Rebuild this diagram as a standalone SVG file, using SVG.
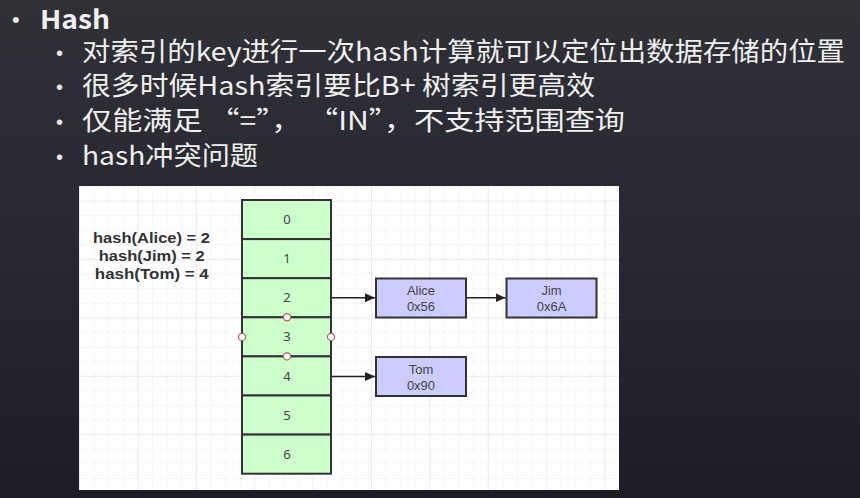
<svg xmlns="http://www.w3.org/2000/svg" width="860" height="498" viewBox="0 0 860 498">
  <defs>
    <linearGradient id="bg" x1="0" y1="0" x2="0" y2="1">
      <stop offset="0" stop-color="#303137"/>
      <stop offset="0.5" stop-color="#272830"/>
      <stop offset="1" stop-color="#1c1d25"/>
    </linearGradient>
    <pattern id="grid" x="79" y="186" width="14.6" height="14.6" patternUnits="userSpaceOnUse">
      <path d="M0 0H14.6M0 0V14.6" fill="none" stroke="#ededed" stroke-width="1"/>
    </pattern>
    <pattern id="gridMajor" x="79" y="200.6" width="58.4" height="58.4" patternUnits="userSpaceOnUse">
      <path d="M0 0H58.4M0 0V58.4" fill="none" stroke="#e2e2e2" stroke-width="1"/>
    </pattern>
    <marker id="arrow" viewBox="0 0 10 10" refX="10" refY="5" markerWidth="10" markerHeight="10" markerUnits="userSpaceOnUse" orient="auto">
      <path d="M0 0.5L10 5L0 9.5Z" fill="#222"/>
    </marker>
    <style>
      .title { font-family: "Noto Sans CJK SC", "Noto Sans", sans-serif; fill: #f0f0f0; }
      .bullet { font-family: "Liberation Sans", sans-serif; fill: #e8e8e8; }
      .slot rect { fill: #ccffcc; stroke: #333; stroke-width: 2; }
      .entry rect { fill: #ccccff; stroke: #333; stroke-width: 2; }
      .num { font-family: "Noto Sans", "Liberation Sans", sans-serif; font-size: 13px; fill: #444; text-anchor: middle; }
      .lbl { font-family: "Liberation Sans", sans-serif; font-size: 13px; fill: #444; text-anchor: middle; }
      .hashtxt { font-family: "Liberation Sans", sans-serif; font-size: 15px; font-weight: bold; fill: #333; text-anchor: middle; }
      .conn { stroke: #222; stroke-width: 1.6; fill: none; }
      .handle { fill: #fff; stroke: #b85a50; stroke-width: 1.2; }
    </style>
  </defs>

  <rect x="0" y="0" width="860" height="498" fill="url(#bg)"/>

  <g id="bullets">
    <text class="bullet" x="12" y="27" font-size="22">•</text>
    <text class="title" x="40" y="29" font-size="26" font-weight="bold" textLength="70" lengthAdjust="spacingAndGlyphs">Hash</text>
    <text class="bullet" x="56" y="60" font-size="20">•</text>
    <text class="title" x="82" y="61" font-size="26" textLength="763" lengthAdjust="spacingAndGlyphs">对索引的key进行一次hash计算就可以定位出数据存储的位置</text>
    <text class="bullet" x="56" y="94" font-size="20">•</text>
    <text class="title" x="82" y="95" font-size="26" textLength="513" lengthAdjust="spacingAndGlyphs">很多时候Hash索引要比B+ 树索引更高效</text>
    <text class="bullet" x="56" y="129" font-size="20">•</text>
    <text class="title" x="82" y="130" font-size="26" textLength="543" lengthAdjust="spacingAndGlyphs">仅能满足 “=”， “IN”，不支持范围查询</text>
    <text class="bullet" x="56" y="164" font-size="20">•</text>
    <text class="title" x="82" y="165" font-size="26" textLength="176" lengthAdjust="spacingAndGlyphs">hash冲突问题</text>
  </g>

  <g id="panel">
    <rect x="79" y="186" width="540" height="304" fill="#ffffff"/>
    <rect x="79" y="186" width="540" height="304" fill="url(#grid)"/>
    <rect x="79" y="186" width="540" height="304" fill="url(#gridMajor)"/>
  </g>

  <g id="hash-formulas">
    <text class="hashtxt" x="151.5" y="243" textLength="117" lengthAdjust="spacingAndGlyphs">hash(Alice) = 2</text>
    <text class="hashtxt" x="151.7" y="261" textLength="106" lengthAdjust="spacingAndGlyphs">hash(Jim) = 2</text>
    <text class="hashtxt" x="151.8" y="279" textLength="114" lengthAdjust="spacingAndGlyphs">hash(Tom) = 4</text>
  </g>

  <g id="table">
    <g id="slot0" class="slot"><rect x="242" y="200" width="89" height="39.1"/><text class="num" x="287" y="224.1">0</text></g>
    <g id="slot1" class="slot"><rect x="242" y="239.1" width="89" height="39.1"/><text class="num" x="287" y="263.2">1</text></g>
    <g id="slot2" class="slot"><rect x="242" y="278.2" width="89" height="39.1"/><text class="num" x="287" y="302.3">2</text></g>
    <g id="slot3" class="slot"><rect x="242" y="317.3" width="89" height="39.1"/><text class="num" x="287" y="341.4">3</text></g>
    <g id="slot4" class="slot"><rect x="242" y="356.4" width="89" height="39.1"/><text class="num" x="287" y="380.5">4</text></g>
    <g id="slot5" class="slot"><rect x="242" y="395.5" width="89" height="39.1"/><text class="num" x="287" y="419.6">5</text></g>
    <g id="slot6" class="slot"><rect x="242" y="434.6" width="89" height="39.1"/><text class="num" x="287" y="458.7">6</text></g>
  </g>

  <g id="handles">
    <circle class="handle" cx="287" cy="317.3" r="3.6"/>
    <circle class="handle" cx="287" cy="356.4" r="3.6"/>
    <circle class="handle" cx="242" cy="336.9" r="3.6"/>
    <circle class="handle" cx="331" cy="336.9" r="3.6"/>
  </g>

  <g id="alice" class="entry">
    <rect x="376" y="278.5" width="90" height="39"/>
    <text class="lbl" x="421" y="295">Alice</text>
    <text class="lbl" x="421" y="311">0x56</text>
  </g>
  <g id="jim" class="entry">
    <rect x="506.5" y="278.5" width="90" height="39"/>
    <text class="lbl" x="551.5" y="295">Jim</text>
    <text class="lbl" x="551.5" y="311">0x6A</text>
  </g>
  <g id="tom" class="entry">
    <rect x="376" y="357" width="90" height="39"/>
    <text class="lbl" x="421" y="373.5">Tom</text>
    <text class="lbl" x="421" y="389.5">0x90</text>
  </g>

  <g id="connectors">
    <line class="conn" x1="332" y1="297.8" x2="375" y2="297.8" marker-end="url(#arrow)"/>
    <line class="conn" x1="467" y1="297.8" x2="505.5" y2="297.8" marker-end="url(#arrow)"/>
    <line class="conn" x1="332" y1="376.5" x2="375" y2="376.5" marker-end="url(#arrow)"/>
  </g>
</svg>
